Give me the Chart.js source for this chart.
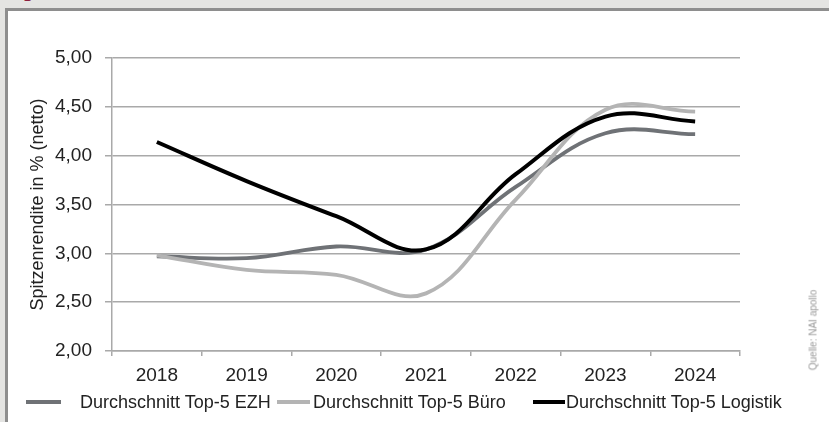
<!DOCTYPE html>
<html>
<head>
<meta charset="utf-8">
<script src="https://cdn.jsdelivr.net/npm/chart.js@4.4.1/dist/chart.umd.min.js"></script>
<style>
  html, body { margin: 0; padding: 0; }
  body {
    width: 829px; height: 422px; position: relative; overflow: hidden;
    background: #e4e4e2;
    font-family: "Liberation Sans", Arial, sans-serif;
  }
  #mark {
    position: absolute; left: 24px; top: -28px;
    font-family: "Liberation Serif", serif; font-size: 28px; line-height: 1;
    color: #8b1e3f;
  }
  #panel {
    position: absolute; left: 5px; top: 8px; right: -10px; bottom: -10px;
    background: #fff;
    border-left: 3px solid #8e8e8e; border-top: 3px solid #8e8e8e;
  }
  #chart { position: absolute; left: 0; top: 0; }
  #legend { position: absolute; left: 0; top: 393px; height: 18px; }
  .item { position: absolute; top: 0; height: 18px; display: flex; align-items: center; white-space: nowrap; }
  .item .key { height: 4px; display: inline-block; }
  .item .txt { font-size: 18px; line-height: 18px; color: #222; }
  #source {
    position: absolute; left: 813px; top: 330px;
    transform: translate(-50%, -50%) rotate(-90deg);
    font-size: 10px; color: #9a9a9a; white-space: nowrap;
  }
</style>
</head>
<body>
<div id="mark">p</div>
<div id="panel"></div>
<canvas id="chart" width="829" height="422"></canvas>
<div id="legend"></div>
<div id="source">Quelle: NAI apollo</div>
<script>
// Spitzenrenditen Top-5 Standorte, 2018-2024
const years = ['2018', '2019', '2020', '2021', '2022', '2023', '2024'];
const ezh = [2.97, 2.95, 3.07, 3.04, 3.68, 4.23, 4.22];
const buero = [2.98, 2.83, 2.78, 2.59, 3.55, 4.47, 4.45];
const logistik = [4.14, 3.74, 3.38, 3.04, 3.81, 4.40, 4.35];

const seriesNames = ['Durchschnitt Top-5 EZH', 'Durchschnitt Top-5 Büro', 'Durchschnitt Top-5 Logistik'];
const seriesColors = ['#6f7276', '#b4b4b4', '#000000'];

// legend placement: left edge, key length, gap key -> text
const legendSlots = [
    { left: 26, key: 35, gap: 19 },
    { left: 277, key: 33, gap: 3 },
    { left: 533, key: 32, gap: 1 }
];

const gridGray = '#a9a9a9';
const textColor = '#222';

// builds the legend below the chart from the chart's own legend items
const htmlLegend = {
    id: 'htmlLegend',
    afterUpdate(chart) {
        const box = document.getElementById('legend');
        box.innerHTML = '';
        const items = chart.options.plugins.legend.labels.generateLabels(chart);
        items.sort((a, b) => a.datasetIndex - b.datasetIndex);
        items.forEach((it, i) => {
            const slot = legendSlots[i];
            const el = document.createElement('div');
            el.className = 'item';
            el.style.left = slot.left + 'px';
            const key = document.createElement('span');
            key.className = 'key';
            key.style.width = slot.key + 'px';
            key.style.background = it.strokeStyle;
            key.style.marginRight = slot.gap + 'px';
            const txt = document.createElement('span');
            txt.className = 'txt';
            txt.textContent = it.text;
            el.appendChild(key);
            el.appendChild(txt);
            box.appendChild(el);
        });
    }
};

function lineSet(label, data, color, width, order) {
    return {
        label: label,
        data: data,
        borderColor: color,
        backgroundColor: color,
        borderWidth: width,
        pointRadius: 0,
        tension: 0.38,
        fill: false,
        order: order
    };
}

const ctx = document.getElementById('chart').getContext('2d');
const chart = new Chart(ctx, {
    type: 'line',
    data: {
        labels: years,
        datasets: [
            lineSet(seriesNames[0], ezh, seriesColors[0], 3.8, 3),
            lineSet(seriesNames[1], buero, seriesColors[1], 3.8, 2),
            lineSet(seriesNames[2], logistik, seriesColors[2], 4, 1)
        ]
    },
    options: {
        responsive: false,
        animation: false,
        layout: { padding: { left: 27, right: 89, top: 58, bottom: 31 } },
        scales: {
            x: {
                offset: true,
                grid: {
                    offset: true,
                    drawOnChartArea: false,
                    drawTicks: true,
                    tickLength: 5,
                    color: gridGray,
                    lineWidth: 1.5
                },
                border: { color: gridGray, width: 1.5 },
                ticks: {
                    color: textColor,
                    font: { family: '"Liberation Sans", Arial, sans-serif', size: 19 },
                    padding: 8,
                    maxRotation: 0
                },
                afterFit: (scale) => { scale.height = 40; }
            },
            y: {
                min: 2,
                max: 5,
                grid: { color: gridGray, lineWidth: 1.5, tickLength: 7 },
                border: { color: gridGray, width: 1.5 },
                ticks: {
                    stepSize: 0.5,
                    color: textColor,
                    padding: 13,
                    font: { family: '"Liberation Sans", Arial, sans-serif', size: 19 },
                    callback: (v) => Number(v).toFixed(2).replace('.', ',')
                },
                title: {
                    display: true,
                    text: 'Spitzenrendite in % (netto)',
                    color: textColor,
                    padding: 0,
                    font: { family: '"Liberation Sans", Arial, sans-serif', size: 18 }
                },
                afterFit: (scale) => { scale.width = 85; }
            }
        },
        plugins: {
            legend: { display: false },
            tooltip: { enabled: false }
        }
    },
    plugins: [htmlLegend]
});
</script>
</body>
</html>
